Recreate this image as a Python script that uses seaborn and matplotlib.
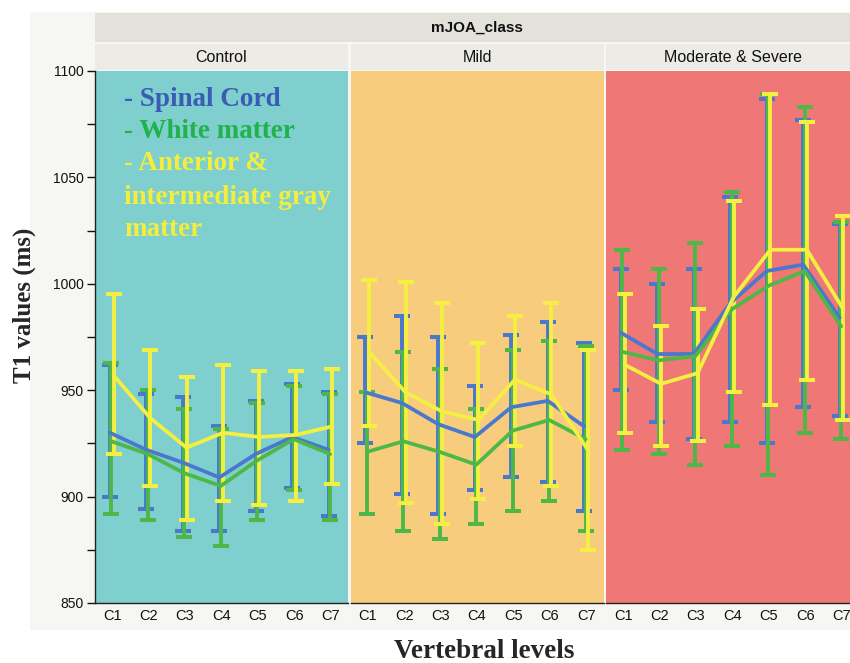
import numpy as np
import pandas as pd
import matplotlib
matplotlib.use("Agg")
import matplotlib.pyplot as plt
import seaborn as sns
from matplotlib.patches import Rectangle

sns.set_theme(style="white")
plt.rcParams['font.family'] = ['Liberation Sans', 'DejaVu Sans']

levels = ["C1", "C2", "C3", "C4", "C5", "C6", "C7"]
groups = ["Control", "Mild", "Moderate & Severe"]
regions = ["Spinal Cord", "White matter", "Anterior & intermediate gray matter"]

# Means / lower / upper per group and region
sc_mean = {
    "Control": [930, 922, 916, 909, 920, 928, 922],
    "Mild": [949, 944, 934, 928, 942, 945, 933],
    "Moderate & Severe": [977, 967, 967, 991, 1006, 1009, 984],
}
sc_lo = {
    "Control": [900, 894, 884, 884, 893, 904, 891],
    "Mild": [925, 901, 892, 903, 909, 907, 893],
    "Moderate & Severe": [950, 935, 927, 935, 925, 942, 938],
}
sc_hi = {
    "Control": [962, 948, 947, 933, 945, 953, 949],
    "Mild": [975, 985, 975, 952, 976, 982, 972],
    "Moderate & Severe": [1007, 1000, 1007, 1041, 1087, 1077, 1028],
}
wm_mean = {
    "Control": [926, 920, 911, 905, 917, 927, 920],
    "Mild": [921, 926, 921, 915, 931, 936, 927],
    "Moderate & Severe": [968, 964, 966, 988, 999, 1006, 980],
}
wm_lo = {
    "Control": [892, 889, 881, 877, 889, 903, 889],
    "Mild": [892, 884, 880, 887, 893, 898, 884],
    "Moderate & Severe": [922, 920, 915, 924, 910, 930, 927],
}
wm_hi = {
    "Control": [963, 950, 941, 932, 944, 952, 948],
    "Mild": [949, 968, 960, 941, 969, 973, 971],
    "Moderate & Severe": [1016, 1007, 1019, 1043, 1089, 1083, 1029],
}
gm_mean = {
    "Control": [957, 937, 923, 930, 928, 929, 933],
    "Mild": [968, 949, 940, 936, 955, 948, 922],
    "Moderate & Severe": [962, 953, 958, 994, 1016, 1016, 988],
}
gm_lo = {
    "Control": [920, 905, 889, 898, 896, 898, 906],
    "Mild": [933, 897, 887, 899, 924, 905, 875],
    "Moderate & Severe": [930, 924, 926, 949, 943, 955, 936],
}
gm_hi = {
    "Control": [995, 969, 956, 962, 959, 959, 960],
    "Mild": [1002, 1001, 991, 972, 985, 991, 969],
    "Moderate & Severe": [995, 980, 988, 1039, 1089, 1076, 1032],
}

line_colors = {"Spinal Cord": "#4a78cc", "White matter": "#4db848",
               "Anterior & intermediate gray matter": "#f5ef42"}
text_colors = ["#3a5cb4", "#22b24b", "#f3ee3c"]
bg_colors = {"Control": "#7ecfce", "Mild": "#f8cc7d", "Moderate & Severe": "#ef7775"}
offsets = {"Spinal Cord": -0.06, "White matter": -0.02,
           "Anterior & intermediate gray matter": 0.04}

series = {
    "Spinal Cord": (sc_mean, sc_lo, sc_hi),
    "White matter": (wm_mean, wm_lo, wm_hi),
    "Anterior & intermediate gray matter": (gm_mean, gm_lo, gm_hi),
}

rows = []
for g in groups:
    for r in regions:
        m, lo, hi = series[r]
        for i, lv in enumerate(levels):
            rows.append(dict(group=g, region=r, level=lv, pos=i + 1 + offsets[r],
                             mean=m[g][i], lo=lo[g][i], hi=hi[g][i]))
df = pd.DataFrame(rows)

W, H = 850, 663
fig = plt.figure(figsize=(W / 100, H / 100), dpi=100)
fig.patch.set_facecolor("white")

# light grey background region
fig.add_artist(Rectangle((30 / W, (H - 630) / H), 1, (630 - 12) / H,
                         transform=fig.transFigure, facecolor="#f6f6f4",
                         edgecolor="none", zorder=-10))

def fx(px):
    return px / W

def fy(py):
    return (H - py) / H

top_px, bot_px = 71, 603
pw = 253
lefts = [95, 350.5, 606]
axes = []
for k, g in enumerate(groups):
    ax = fig.add_axes([fx(lefts[k]), fy(bot_px), pw / W, (bot_px - top_px) / H])
    ax.set_facecolor(bg_colors[g])
    sub = df[df.group == g]
    for r in regions:
        s = sub[sub.region == r]
        ax.errorbar(s["pos"], s["mean"],
                    yerr=[s["mean"] - s["lo"], s["hi"] - s["mean"]],
                    fmt="none", ecolor=line_colors[r], elinewidth=2.8,
                    capsize=6, capthick=2.9, zorder=3)
    sns.lineplot(data=sub, x="pos", y="mean", hue="region", hue_order=regions,
                 palette=line_colors, linewidth=2.7, legend=False, ax=ax,
                 sort=True, zorder=4)
    ax.set_xlim(0.53, 7.47)
    ax.set_ylim(850, 1100)
    ax.set_xticks(range(1, 8))
    ax.set_xticklabels(levels, fontsize=10.5)
    ax.set_xlabel("")
    ax.set_ylabel("")
    for sp in ["top", "right"]:
        ax.spines[sp].set_visible(False)
    ax.spines["bottom"].set_color("#222222")
    ax.spines["bottom"].set_linewidth(1.0)
    ax.tick_params(axis="x", length=0, pad=4, colors="#111111")
    if k == 0:
        ax.spines["left"].set_color("#222222")
        ax.spines["left"].set_linewidth(1.0)
        ax.set_yticks([850, 900, 950, 1000, 1050, 1100])
        ax.set_yticks([875, 925, 975, 1025, 1075], minor=True)
        ax.tick_params(axis="y", which="both", direction="out", length=6,
                       width=1, left=True, labelsize=10, pad=2, colors="#111111")
    else:
        ax.spines["left"].set_visible(False)
        ax.set_yticks([])
    # panel strip
    fig.add_artist(Rectangle((fx(lefts[k]), fy(70)), pw / W, 26 / H,
                             transform=fig.transFigure, facecolor="#ecebe6",
                             edgecolor="none"))
    fig.text(fx(lefts[k] + pw / 2), fy(57), g, ha="center", va="center",
             fontsize=11.5, color="#111111")
    axes.append(ax)

# top strip
fig.add_artist(Rectangle((fx(95), fy(42)), (860 - 95) / W, 29 / H,
                         transform=fig.transFigure, facecolor="#e2e1da",
                         edgecolor="none"))
fig.text(fx(477), fy(28), "mJOA_class", ha="center", va="center",
         fontsize=11, fontweight="bold", color="#111111")

# legend-like texts
leg_lines = [("- Spinal Cord", text_colors[0], 99),
             ("- White matter", text_colors[1], 132),
             ("- Anterior &", text_colors[2], 164),
             ("intermediate gray", text_colors[2], 197),
             ("matter", text_colors[2], 230)]
for txt, col, ypx in leg_lines:
    fig.text(fx(124), fy(ypx), txt, ha="left", va="center", fontsize=19.5,
             fontweight="bold", color=col, family=["Liberation Serif", "DejaVu Serif"])

fig.text(fx(24), fy(305), "T1 values (ms)", rotation=90, ha="center", va="center",
         fontsize=18, fontweight="bold", family=["Liberation Serif", "DejaVu Serif"])
fig.text(fx(484), fy(651), "Vertebral levels", ha="center", va="center",
         fontsize=19.5, fontweight="bold", family=["Liberation Serif", "DejaVu Serif"])

fig.savefig("out.png", dpi=100, facecolor=fig.get_facecolor())
